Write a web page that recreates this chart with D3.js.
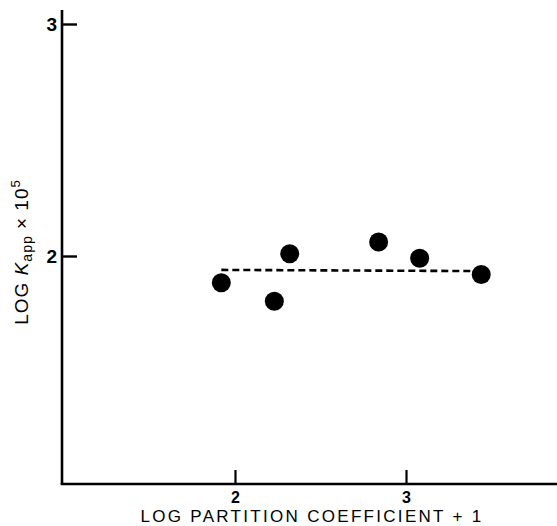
<!DOCTYPE html>
<html>
<head>
<meta charset="utf-8">
<script src="https://cdn.jsdelivr.net/npm/d3@7"></script>
<style>
  body { margin: 0; background: #fff; }
  text { font-family: "Liberation Sans", Arial, sans-serif; fill: #000; }
</style>
</head>
<body>
<div id="my_dataviz"></div>
<script>

// --------------------------------------------------------
// (1) Data
// --------------------------------------------------------

var partitionCoef = [1.92, 2.23, 2.32, 2.84, 3.08, 3.44]
var logKapp = [1.885, 1.805, 2.01, 2.06, 1.99, 1.92]

// dashed regression line
var fitX = [1.92, 3.44]
var fitY = [1.94, 1.935]

var xTicks = [2, 3]
var yTicks = [2, 3]

// --------------------------------------------------------
// (2) Layout
// --------------------------------------------------------

var svg_width = 557
var svg_height = 526

var axisLeftX = 62     // pixel position of the vertical axis
var axisBottomY = 484  // pixel position of the horizontal axis
var axisTopY = 10

const svg = d3.select("#my_dataviz")
  .append("svg")
    .attr("width", svg_width)
    .attr("height", svg_height)

const x = d3.scaleLinear()
  .domain([2, 3])
  .range([235, 406])

const y = d3.scaleLinear()
  .domain([2, 3])
  .range([256, 24])

// axis lines
svg.append("line")
  .attr("x1", axisLeftX).attr("x2", axisLeftX)
  .attr("y1", axisTopY).attr("y2", axisBottomY)
  .attr("stroke", "#000").attr("stroke-width", 2.6)

svg.append("line")
  .attr("x1", axisLeftX - 1.3).attr("x2", svg_width)
  .attr("y1", axisBottomY).attr("y2", axisBottomY)
  .attr("stroke", "#000").attr("stroke-width", 2.6)

// y axis ticks (pointing inward)
const gy = svg.append("g")
  .attr("transform", `translate(${axisLeftX},0)`)
  .call(d3.axisLeft(y).tickValues(yTicks).tickFormat(d3.format("d"))
    .tickSizeInner(-15).tickSizeOuter(0).tickPadding(5))
gy.select(".domain").remove()
gy.selectAll(".tick line").attr("stroke-width", 2.4)
gy.selectAll(".tick text")
  .attr("font-size", 19).attr("font-weight", "bold")
  .attr("dy", "0.36em")

// x axis ticks (pointing inward)
const gx = svg.append("g")
  .attr("transform", `translate(0,${axisBottomY})`)
  .call(d3.axisBottom(x).tickValues(xTicks).tickFormat(d3.format("d"))
    .tickSizeInner(-14).tickSizeOuter(0).tickPadding(8))
gx.select(".domain").remove()
gx.selectAll(".tick line").attr("stroke-width", 2.2)
gx.selectAll(".tick text")
  .attr("font-size", 16).attr("font-weight", "bold")

// axis titles
svg.append("text")
  .attr("x", 312)
  .attr("y", 522)
  .attr("text-anchor", "middle")
  .style("font-size", "17px")
  .style("letter-spacing", "2.3px")
  .text("LOG PARTITION COEFFICIENT + 1")

const ylab = svg.append("text")
  .attr("transform", "translate(28,252) rotate(-90)")
  .attr("text-anchor", "middle")
  .style("font-size", "19px")
  .style("letter-spacing", "1px")
ylab.append("tspan").text("LOG ")
ylab.append("tspan").style("font-style", "italic").text("K")
ylab.append("tspan").attr("dy", 4).style("font-size", "14px").text("app")
ylab.append("tspan").attr("dy", -4).text(" \u00d7 10")
ylab.append("tspan").attr("dy", -8).style("font-size", "13px").text("5")

// dashed fit line
const line = d3.line()
  .x(d => x(d[0]))
  .y(d => y(d[1]))

svg.append("path")
  .datum(d3.zip(fitX, fitY))
  .attr("d", line)
  .attr("fill", "none")
  .attr("stroke", "#000")
  .attr("stroke-width", 2.6)
  .attr("stroke-dasharray", "7,4")

// data points
svg.selectAll("circle")
  .data(d3.zip(partitionCoef, logKapp))
  .join("circle")
    .attr("cx", d => x(d[0]))
    .attr("cy", d => y(d[1]))
    .attr("r", 9.5)
    .attr("fill", "#000")

</script>
</body>
</html>
